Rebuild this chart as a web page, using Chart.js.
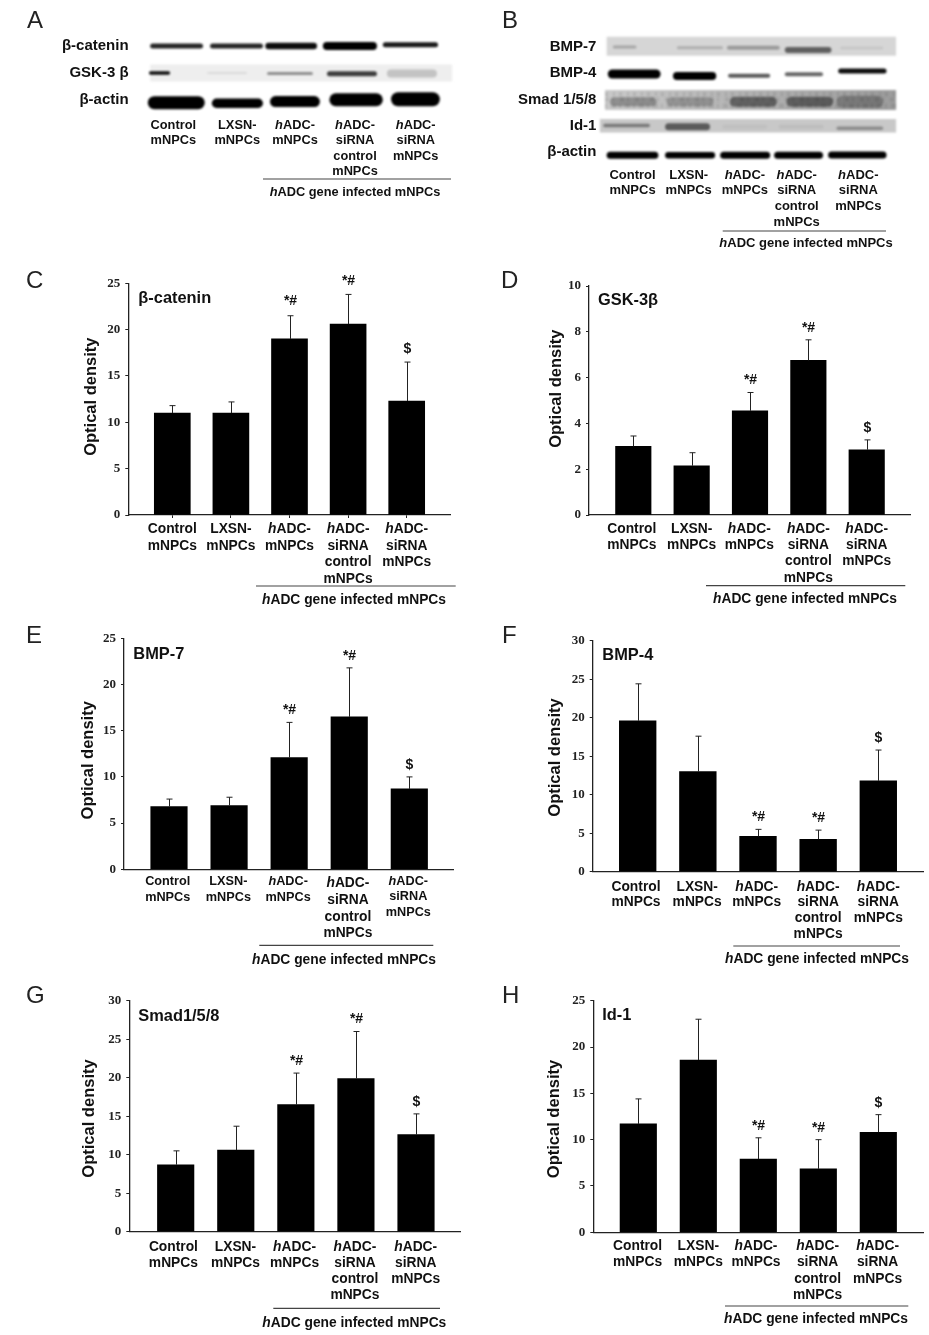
<!DOCTYPE html>
<html><head><meta charset="utf-8">
<style>
html,body{margin:0;padding:0;background:#fff;width:929px;height:1335px;overflow:hidden}
canvas{position:absolute;display:block;filter:blur(.3px)}
</style>
<script src="https://cdn.jsdelivr.net/npm/chart.js@4"></script>
</head><body>
<script>
// ---------- shared labels ----------
const categories = ['Control\nmNPCs','LXSN-\nmNPCs','hADC-\nmNPCs','hADC-\nsiRNA\ncontrol\nmNPCs','hADC-\nsiRNA\nmNPCs'];
const groupCaption = 'hADC gene infected mNPCs';
const axisTitle = 'Optical density';
const upMarks = ['','','*#','*#','$'];

// ---------- values ----------
const cValues = [11, 11, 19, 20.6, 12.3];
const cUpper  = [11.8, 12.2, 21.5, 23.8, 16.5];
const dValues = [3, 2.15, 4.55, 6.75, 2.85];
const dUpper  = [3.45, 2.72, 5.35, 7.65, 3.28];
const eValues = [6.8, 6.9, 12.1, 16.5, 8.7];
const eUpper  = [7.6, 7.8, 15.9, 21.8, 10];
const fValues = [19.6, 13, 4.6, 4.2, 11.8];
const fUpper  = [24.4, 17.6, 5.5, 5.4, 15.8];
const gValues = [8.7, 10.6, 16.5, 19.9, 12.6];
const gUpper  = [10.5, 13.7, 20.6, 26, 15.3];
const hValues = [11.7, 18.6, 7.9, 6.85, 10.8];
const hUpper  = [14.4, 23, 10.2, 10, 12.7];

// ---------- blot rows: [from, to, rowShift, thickness, density] per lane ----------
const aRows = ['β-catenin','GSK-3 β','β-actin'];
const aCatenin = [[-.44,.46,0,5,.85],[-.42,.48,0,5,.85],[-.48,.4,0,6.5,.95],[-.5,.42,0,8,1],[-.48,.46,-.05,5,.9]];
const aGsk = [[-.46,-.1,0,3.5,.95],[-.47,.21,0,2,.08],[-.45,.33,.02,3,.4],[-.43,.42,.03,5,.75],[-.41,.44,.02,8,.18]];
const aActin = [[-.48,.49,.1,13,1],[-.39,.48,.12,9.5,1],[-.4,.45,.06,11,1],[-.39,.52,-.01,13,1],[-.34,.49,-.03,14,1]];
const bRows = ['BMP-7','BMP-4','Smad 1/5/8','Id-1','β-actin'];
const bBmp7 = [[-.35,.07,0,3,.22],[-.21,.61,.03,3,.18],[-.32,.62,.03,4,.28],[-.29,.54,.11,6,.55],[-.3,.46,.04,2.5,.08]];
const bBmp4 = [[-.44,.5,.03,9,1],[-.28,.49,.11,8,1],[-.3,.45,.1,4,.65],[-.29,.39,.04,4,.6],[-.34,.52,-.08,5,.95]];
const bSmad = [[-.4,.43,.09,9,.28],[-.39,.44,.09,9,.22],[-.27,.57,.09,10,.45],[-.26,.57,.09,10,.45],[-.37,.46,.09,12,.25]];
const bId1 = [[-.52,.31,0,3.5,.4],[-.42,.38,.04,7,.55],[-.4,.4,.04,4,.04],[-.4,.4,.04,4,.05],[-.37,.46,.1,3.5,.3]];
const bActin = [[-.46,.46,.13,7,1],[-.42,.47,.13,6.5,1],[-.44,.45,.13,7,1],[-.48,.39,.13,7,1],[-.52,.52,.12,7,1]];

// ---------- helpers ----------
const SANS = '"Liberation Sans", Arial, sans-serif';
const SERIF = '"Liberation Serif", serif';
Chart.defaults.animation = false;
Chart.defaults.devicePixelRatio = 1;

function makeCanvas(b){
  const c = document.createElement('canvas');
  c.width = b.w; c.height = b.h;
  c.style.left = b.x + 'px'; c.style.top = b.y + 'px';
  c.style.width = b.w + 'px'; c.style.height = b.h + 'px';
  document.body.appendChild(c);
  return c;
}
function richText(ctx, s, cx, y, size){
  ctx.textAlign = 'left'; ctx.textBaseline = 'middle'; ctx.fillStyle = '#111';
  const it = 'italic bold ' + size + 'px ' + SANS, bd = 'bold ' + size + 'px ' + SANS;
  if (s.charAt(0) === 'h' && s.charAt(1) === 'A') {
    ctx.font = bd; const rest = s.slice(1), rw = ctx.measureText(rest).width;
    ctx.font = it; const hw = ctx.measureText('h').width;
    const x0 = cx - (hw + rw) / 2;
    ctx.fillText('h', x0, y);
    ctx.font = bd; ctx.fillText(rest, x0 + hw, y);
  } else {
    ctx.font = bd; ctx.fillText(s, cx - ctx.measureText(s).width / 2, y);
  }
}
function decoration(cfg){
  return {
    id: 'decor',
    afterDraw(chart){
      const ctx = chart.ctx, xs = chart.scales.x, b = cfg.box;
      ctx.save();
      ctx.translate(-b.x, -b.y);
      // panel letter
      ctx.font = '24px ' + SANS; ctx.fillStyle = '#222'; ctx.textAlign = 'left'; ctx.textBaseline = 'alphabetic';
      ctx.fillText(cfg.letter, cfg.letterPos[0], cfg.letterPos[1]);
      // panel title
      if (cfg.title) {
        ctx.font = 'bold 16.4px ' + SANS; ctx.fillStyle = '#111'; ctx.textBaseline = 'middle';
        ctx.fillText(cfg.title, cfg.titlePos[0], cfg.titlePos[1]);
      }
      // y title
      if (cfg.yTitlePos) {
        ctx.save();
        ctx.translate(cfg.yTitlePos[0], cfg.yTitlePos[1]);
        ctx.rotate(-Math.PI / 2);
        ctx.font = 'bold 16.5px ' + SANS; ctx.textAlign = 'center'; ctx.textBaseline = 'middle'; ctx.fillStyle = '#111';
        ctx.fillText(axisTitle, 0, 0);
        ctx.restore();
      }
      // category labels
      categories.forEach((cat, i) => {
        const cx = xs.getPixelForValue(i) + b.x + cfg.labelDx[i];
        const st = cfg.labelY[i] || cfg.labelY[0];
        cat.split('\n').forEach((ln, k) => richText(ctx, ln, cx, st[0] + k * st[1], st[2]));
      });
      // bracket and its caption
      ctx.strokeStyle = '#444'; ctx.lineWidth = 1.2;
      ctx.beginPath(); ctx.moveTo(cfg.bracket[0], cfg.bracket[2]); ctx.lineTo(cfg.bracket[1], cfg.bracket[2]); ctx.stroke();
      richText(ctx, groupCaption, cfg.caption[0], cfg.caption[1], cfg.caption[2]);
      ctx.restore();
    }
  };
}
const errorBars = (upper, marks, gaps) => ({
  id: 'errs',
  afterDatasetsDraw(chart){
    const ctx = chart.ctx, xs = chart.scales.x, ys = chart.scales.y;
    const vals = chart.data.datasets[0].data;
    ctx.save();
    ctx.strokeStyle = '#222'; ctx.lineWidth = 1;
    upper.forEach((u, i) => {
      const x = Math.round(xs.getPixelForValue(i)) + .5, y0 = ys.getPixelForValue(vals[i].y), y1 = ys.getPixelForValue(u);
      ctx.beginPath(); ctx.moveTo(x, y0); ctx.lineTo(x, y1);
      ctx.moveTo(x - 3, y1); ctx.lineTo(x + 3, y1); ctx.stroke();
      if (marks[i]) {
        ctx.font = 'bold 14px ' + SANS; ctx.fillStyle = '#111'; ctx.textAlign = 'center'; ctx.textBaseline = 'middle';
        ctx.fillText(marks[i], x, y1 - (gaps ? gaps[i] : 12));
      }
    });
    ctx.restore();
  }
});

const Y_SCALE_W = 30;
function barPanel(cfg){
  const cv = makeCanvas(cfg.box), b = cfg.box, a = cfg.axis;
  const sp = (cfg.c1 - cfg.c0) / (categories.length - 1);
  new Chart(cv, {
    type: 'bar',
    data: { datasets: [{ data: cfg.values.map((v, i) => ({x: i, y: v})), backgroundColor: '#000', barThickness: cfg.barW, borderWidth: 0 }] },
    options: {
      responsive: false, maintainAspectRatio: false, parsing: {xAxisKey: 'x', yAxisKey: 'y'},
      layout: { padding: { left: a.l - b.x - Y_SCALE_W, right: b.x + b.w - a.r, top: a.t - b.y, bottom: b.y + b.h - a.b } },
      plugins: { legend: {display: false}, tooltip: {enabled: false}, title: {display: false} },
      scales: {
        x: {
          type: 'linear', offset: false, min: (a.l - cfg.c0) / sp, max: (a.r - cfg.c0) / sp,
          afterBuildTicks: s => { s.ticks = categories.map((_, i) => ({value: i})); },
          afterFit: s => { s.height = 0; },
          ticks: { display: false, autoSkip: false, callback: v => categories[v] ? categories[v].split('\n') : '' },
          grid: { offset: false, drawOnChartArea: false, drawTicks: !!cfg.xTicks, tickLength: 3, tickColor: '#222', tickWidth: 1 },
          border: { color: '#222', width: 1.3 }
        },
        y: {
          min: 0, max: cfg.yMax,
          afterFit: s => { s.width = Y_SCALE_W; },
          ticks: { stepSize: cfg.step, color: '#222', padding: 5, font: {family: SERIF, weight: 'bold', size: 13} },
          grid: { drawOnChartArea: false, drawTicks: true, tickLength: 3, tickColor: '#222', tickWidth: 1 },
          border: { color: '#222', width: 1.3 }
        }
      }
    },
    plugins: [errorBars(cfg.upper, upMarks, cfg.gaps), decoration(cfg)]
  });
}

function blotPanel(cfg){
  const cv = makeCanvas(cfg.box), b = cfg.box, a = cfg.axis;
  const sp = (a.r - a.l) / categories.length;
  const bands = [];
  cfg.rows.forEach((bandsOfRow, r) => {
    bandsOfRow.forEach((t, lane) => {
      const trim = t[3] / 2 / sp;
      bands.push({
        type: 'scatter', showLine: true, pointRadius: 0, clip: false, tension: 0,
        borderColor: 'rgba(0,0,0,' + t[4] + ')', borderWidth: t[3], borderCapStyle: 'round',
        data: [{x: lane + t[0] + trim, y: r + t[2]}, {x: lane + t[1] - trim, y: r + t[2]}]
      });
    });
  });
  cfg.strips.forEach(s => bands.push({
    type: 'scatter', showLine: true, pointRadius: 0, clip: false, tension: 0,
    borderColor: s.color, borderWidth: s.h, borderCapStyle: 'butt', borderDash: s.dash || [],
    data: [{x: s.from, y: s.row + s.dy}, {x: s.to, y: s.row + s.dy}]
  }));
  const W = a.l - b.x - 1;
  new Chart(cv, {
    type: 'scatter',
    data: { datasets: bands },
    options: {
      responsive: false, maintainAspectRatio: false,
      layout: { padding: { left: 1, right: b.x + b.w - a.r, top: a.t - b.y, bottom: b.y + b.h - a.b } },
      plugins: { legend: {display: false}, tooltip: {enabled: false} },
      scales: {
        x: {
          type: 'linear', min: -.5, max: categories.length - .5,
          afterBuildTicks: s => { s.ticks = categories.map((_, i) => ({value: i})); },
          afterFit: s => { s.height = 0; },
          ticks: { display: false, callback: v => categories[v] ? categories[v].split('\n') : '' },
          grid: { display: false }, border: { display: false }
        },
        y: {
          type: 'linear', reverse: true, min: -.5, max: cfg.rowLabels.length - .5,
          afterBuildTicks: s => { s.ticks = cfg.rowLabels.map((_, i) => ({value: i})); },
          afterFit: s => { s.width = W; },
          ticks: { autoSkip: false, padding: cfg.rowPad, color: '#111', font: {family: SANS, weight: 'bold', size: 15},
                   callback: v => cfg.rowLabels[v] || '' },
          grid: { display: false }, border: { display: false }
        }
      }
    },
    plugins: [{
      id: 'soften',
      beforeDatasetsDraw(c){ c.ctx.save(); c.ctx.filter = 'blur(1.1px)'; },
      afterDatasetsDraw(c){ c.ctx.restore(); }
    }, decoration(cfg)]
  });
}

// ---------- panels ----------
blotPanel({
  box: {x:0,y:0,w:465,h:262}, axis: {l:146.6,r:440.4,t:32.5,b:113.5},
  rows: [aCatenin, aGsk, aActin], rowLabels: aRows, rowPad: 10,
  strips: [{row:1, dy:0, from:-.44, to:4.7, h:17, color:'#eeeeee'}],
  letter:'A', letterPos:[27,28],
  labelDx:[-2.7,2.5,1.5,2.75,4.7], labelY:[[125,15.5,12.8]],
  bracket:[263,451,179], caption:[355,192,12.8]
});
blotPanel({
  box: {x:465,y:0,w:464,h:262}, axis: {l:604.4,r:885.4,t:33.9,b:164.9},
  rows: [bBmp7, bBmp4, bSmad, bId1, bActin], rowLabels: bRows, rowPad: 0,
  strips: [
    {row:2, dy:-.2, from:-.49, to:4.69, h:4, color:'rgba(0,0,0,.09)', dash:[3,5,2,4]},
    {row:2, dy:.0, from:-.49, to:4.69, h:4, color:'rgba(0,0,0,.09)', dash:[4,3,2,6]},
    {row:2, dy:.24, from:-.49, to:4.69, h:4, color:'rgba(0,0,0,.09)', dash:[2,4,5,3]},
    {row:0, dy:-.03, from:-.46, to:4.69, h:19, color:'#d6d6d6'},
    {row:2, dy:.02, from:-.49, to:4.69, h:20, color:c=>{
      const ca=c.chart.chartArea; if(!ca) return '#b5b5b5';
      const g=c.chart.ctx.createLinearGradient(ca.left,0,ca.right,0);
      g.addColorStop(0,'#c9c9c9'); g.addColorStop(1,'#9d9d9d'); return g; }},
    {row:3, dy:.01, from:-.58, to:4.69, h:13.5, color:'#c8c8c8'}
  ],
  letter:'B', letterPos:[502,28],
  labelDx:[0,0,0,-4.4,1], labelY:[[175,15.8,13]],
  bracket:[722.7,886,231], caption:[806,243.5,13]
});
barPanel({
  box:{x:0,y:262,w:465,h:350}, axis:{l:128.3,r:450,t:283.3,b:515}, c0:172.3, c1:406.7, barW:36, xTicks:true,
  values:cValues, upper:cUpper, yMax:25, step:5, gaps:[0,0,15,13,13],
  letter:'C', letterPos:[26,288], title:'β-catenin', titlePos:[138.3,298.3], yTitlePos:[91,396.7],
  labelDx:[0,0,0,0,0], labelY:[[529.3,16.6,13.8]],
  bracket:[256,455.7,586], caption:[354,600,13.8]
});
barPanel({
  box:{x:465,y:262,w:464,h:350}, axis:{l:589,r:910,t:286,b:515}, c0:633.3, c1:866.7, barW:35.5,
  values:dValues, upper:dUpper, yMax:10, step:2,
  letter:'D', letterPos:[501,288], title:'GSK-3β', titlePos:[598,300], yTitlePos:[556,388.7],
  labelDx:[-1.5,0,-.7,0,0], labelY:[[528.7,16.4,13.8]],
  bracket:[706,905.3,585.7], caption:[805,599.3,13.8]
});
barPanel({
  box:{x:0,y:612,w:465,h:360}, axis:{l:124,r:453,t:638.3,b:869.3}, c0:169, c1:409.3, barW:36.5,
  values:eValues, upper:eUpper, yMax:25, step:5,
  letter:'E', letterPos:[26,643], title:'BMP-7', titlePos:[133.3,654], yTitlePos:[88.3,760.3],
  labelDx:[-1.3,-.7,-1,-1.3,-1],
  labelY:[[881.7,16,12.7],[881.7,16,12.7],[881,16.5,12.7],[883.3,16.7,13.8],[881,15.7,12.7]],
  bracket:[259.3,433.3,945.3], caption:[344,960,13.8]
});
barPanel({
  box:{x:465,y:612,w:464,h:360}, axis:{l:592.7,r:923.3,t:640.7,b:871.7}, c0:637.7, c1:878.3, barW:36.7,
  values:fValues, upper:fUpper, yMax:30, step:5,
  letter:'F', letterPos:[502,643], title:'BMP-4', titlePos:[602.3,655], yTitlePos:[555.7,757.5],
  labelDx:[-1.7,-.7,-1.3,0,0], labelY:[[886.7,15.9,13.8]],
  bracket:[733.3,900,946], caption:[817,959.3,13.8]
});
barPanel({
  box:{x:0,y:972,w:465,h:363}, axis:{l:129.3,r:460,t:1000.7,b:1231.7}, c0:175.7, c1:416, barW:36.5,
  values:gValues, upper:gUpper, yMax:30, step:5,
  letter:'G', letterPos:[26,1003], title:'Smad1/5/8', titlePos:[138.3,1016.7], yTitlePos:[89.3,1118.5],
  labelDx:[-2.3,-.3,-1.3,-1,-.3], labelY:[[1246.7,16.2,13.8]],
  bracket:[273.3,440,1308.3], caption:[354.3,1322.7,13.8]
});
barPanel({
  box:{x:465,y:972,w:464,h:363}, axis:{l:593.3,r:923.3,t:1000.7,b:1232.3}, c0:638.3, c1:878.3, barW:36.5,
  values:hValues, upper:hUpper, yMax:25, step:5,
  letter:'H', letterPos:[502,1003], title:'Id-1', titlePos:[602.3,1015], yTitlePos:[554.3,1119],
  labelDx:[-.7,0,-2.3,-.7,-.7], labelY:[[1246,16.4,13.8]],
  bracket:[725,908.3,1306], caption:[816,1319.3,13.8]
});
</script>
</body></html>
